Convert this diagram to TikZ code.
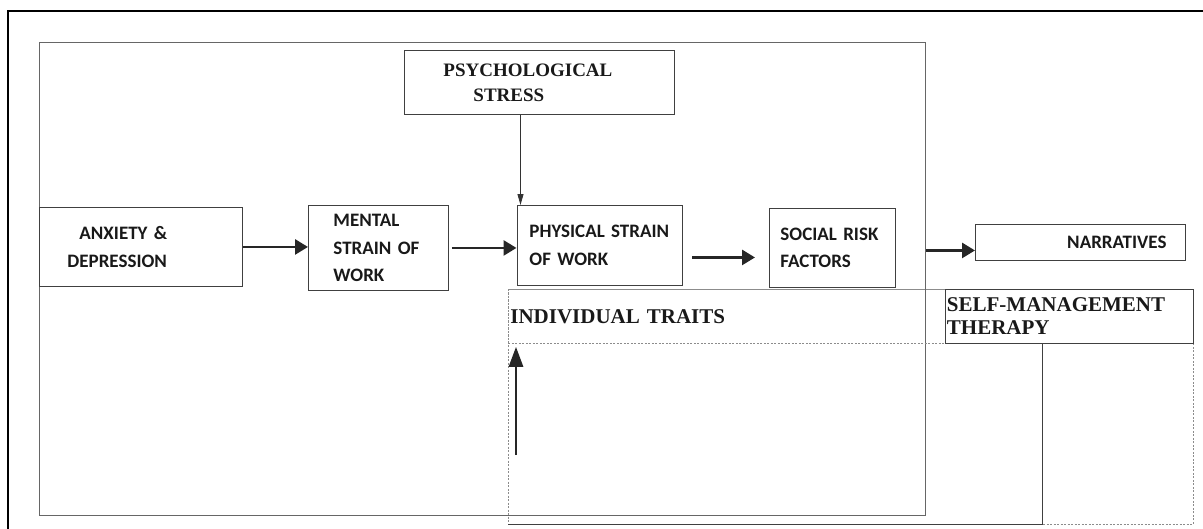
\documentclass[tikz,border=0pt]{standalone}
\usepackage{fontspec}
\setmainfont{Liberation Serif}
\newfontfamily\calib{Carlito}
\usetikzlibrary{arrows.meta}
\tikzset{
    sansbox/.style={draw=black!75, line width=0.9pt, anchor=north west, inner ysep=0pt, text=black!90,
        font={\calib\bfseries\fontsize{19}{27.5}\selectfont}},
    serifbox/.style={draw=black!75, line width=0.9pt, anchor=north west, inner ysep=0pt, text=black!90,
        font={\bfseries\fontsize{21}{23}\selectfont}},
    dashline/.style={draw=black!45, line width=0.8pt, dash pattern=on 2pt off 1.5pt},
    thinline/.style={draw=black!75, line width=0.9pt},
    bigarrow/.style={black!85, line width=2.8pt, -{Triangle[length=13pt,width=15pt]}},
    thinarrow/.style={black!80, line width=0.8pt, -{Triangle[length=11pt,width=6pt]}},
    uparrow/.style={black!85, line width=2.8pt, -{Triangle[length=20pt,width=14pt]}}
}
\begin{document}
\begin{tikzpicture}[x=1pt, y=-1pt]
    \useasboundingbox (0,0) rectangle (1203,528);
    \draw[line width=2pt] (8,540) -- (8,10.5) -- (1220,10.5);
    \draw[dashline] (508,289) rectangle (1193,524);
    \node[draw=black!60, line width=1pt, anchor=north west, minimum width=886pt, minimum height=473pt] (main) at (39,42) {};

    \node[sansbox, minimum width=203pt, minimum height=79pt, inner xsep=28pt, text width=147pt, align=left] (anx) at (39,207) {\hspace*{12pt}ANXIETY \&\\DEPRESSION};
    \node[sansbox, minimum width=140pt, minimum height=85pt, inner xsep=25pt, text width=90pt, align=left] (mental) at (308,205) {MENTAL\\STRAIN OF\\WORK};
    \node[sansbox, minimum width=165pt, minimum height=80pt, inner xsep=12.5pt, text width=140pt, align=left] (phys) at (516.5,205) {PHYSICAL STRAIN\\OF WORK};
    \node[sansbox, minimum width=126pt, minimum height=79pt, inner xsep=11pt, text width=104pt, align=left] (soc) at (769,208) {SOCIAL RISK\\FACTORS};
    \node[sansbox, minimum width=210pt, minimum height=36pt, inner xsep=19pt, text width=172pt, align=right] (narr) at (975,224) {NARRATIVES};
    \node[serifbox, font={\bfseries\fontsize{19}{25}\selectfont}, minimum width=270pt, minimum height=64pt, inner xsep=39pt, text width=192pt, align=left] (psych) at (404,50) {PSYCHOLOGICAL\\\hspace*{30pt}STRESS};
    \node[serifbox, dashline, minimum width=437pt, minimum height=54pt, inner xsep=2pt, text width=433pt, align=left] (traits) at (508,289) {INDIVIDUAL TRAITS};
    \node[serifbox, minimum width=248pt, minimum height=54pt, inner xsep=1.5pt, text width=245pt, align=left] (sm) at (945,289) {SELF-MANAGEMENT\\THERAPY};

    \draw[bigarrow] (anx.east) -- (anx.east -| mental.west);
    \draw[bigarrow, shorten <=3pt] (mental.east) -- (mental.east -| phys.west);
    \draw[bigarrow, shorten <=10pt, shorten >=14pt] ([yshift=-12pt]phys.east) -- ([yshift=-12pt]phys.east -| soc.west);
    \draw[bigarrow] ([yshift=-8pt]narr.west -| main.east) -- ([yshift=-8pt]narr.west);
    \draw[thinarrow] ([xshift=4pt]phys.north west |- psych.south) -- ([xshift=4pt]phys.north west);
    \coordinate (tail) at (516,455);
    \draw[uparrow, shorten >=3pt] (tail) -- (tail |- traits.south);
    \coordinate (turn) at (1042,524);
    \draw[thinline] (sm.south -| turn) -- (turn) -- (traits.west |- turn);
\end{tikzpicture}
\end{document}
